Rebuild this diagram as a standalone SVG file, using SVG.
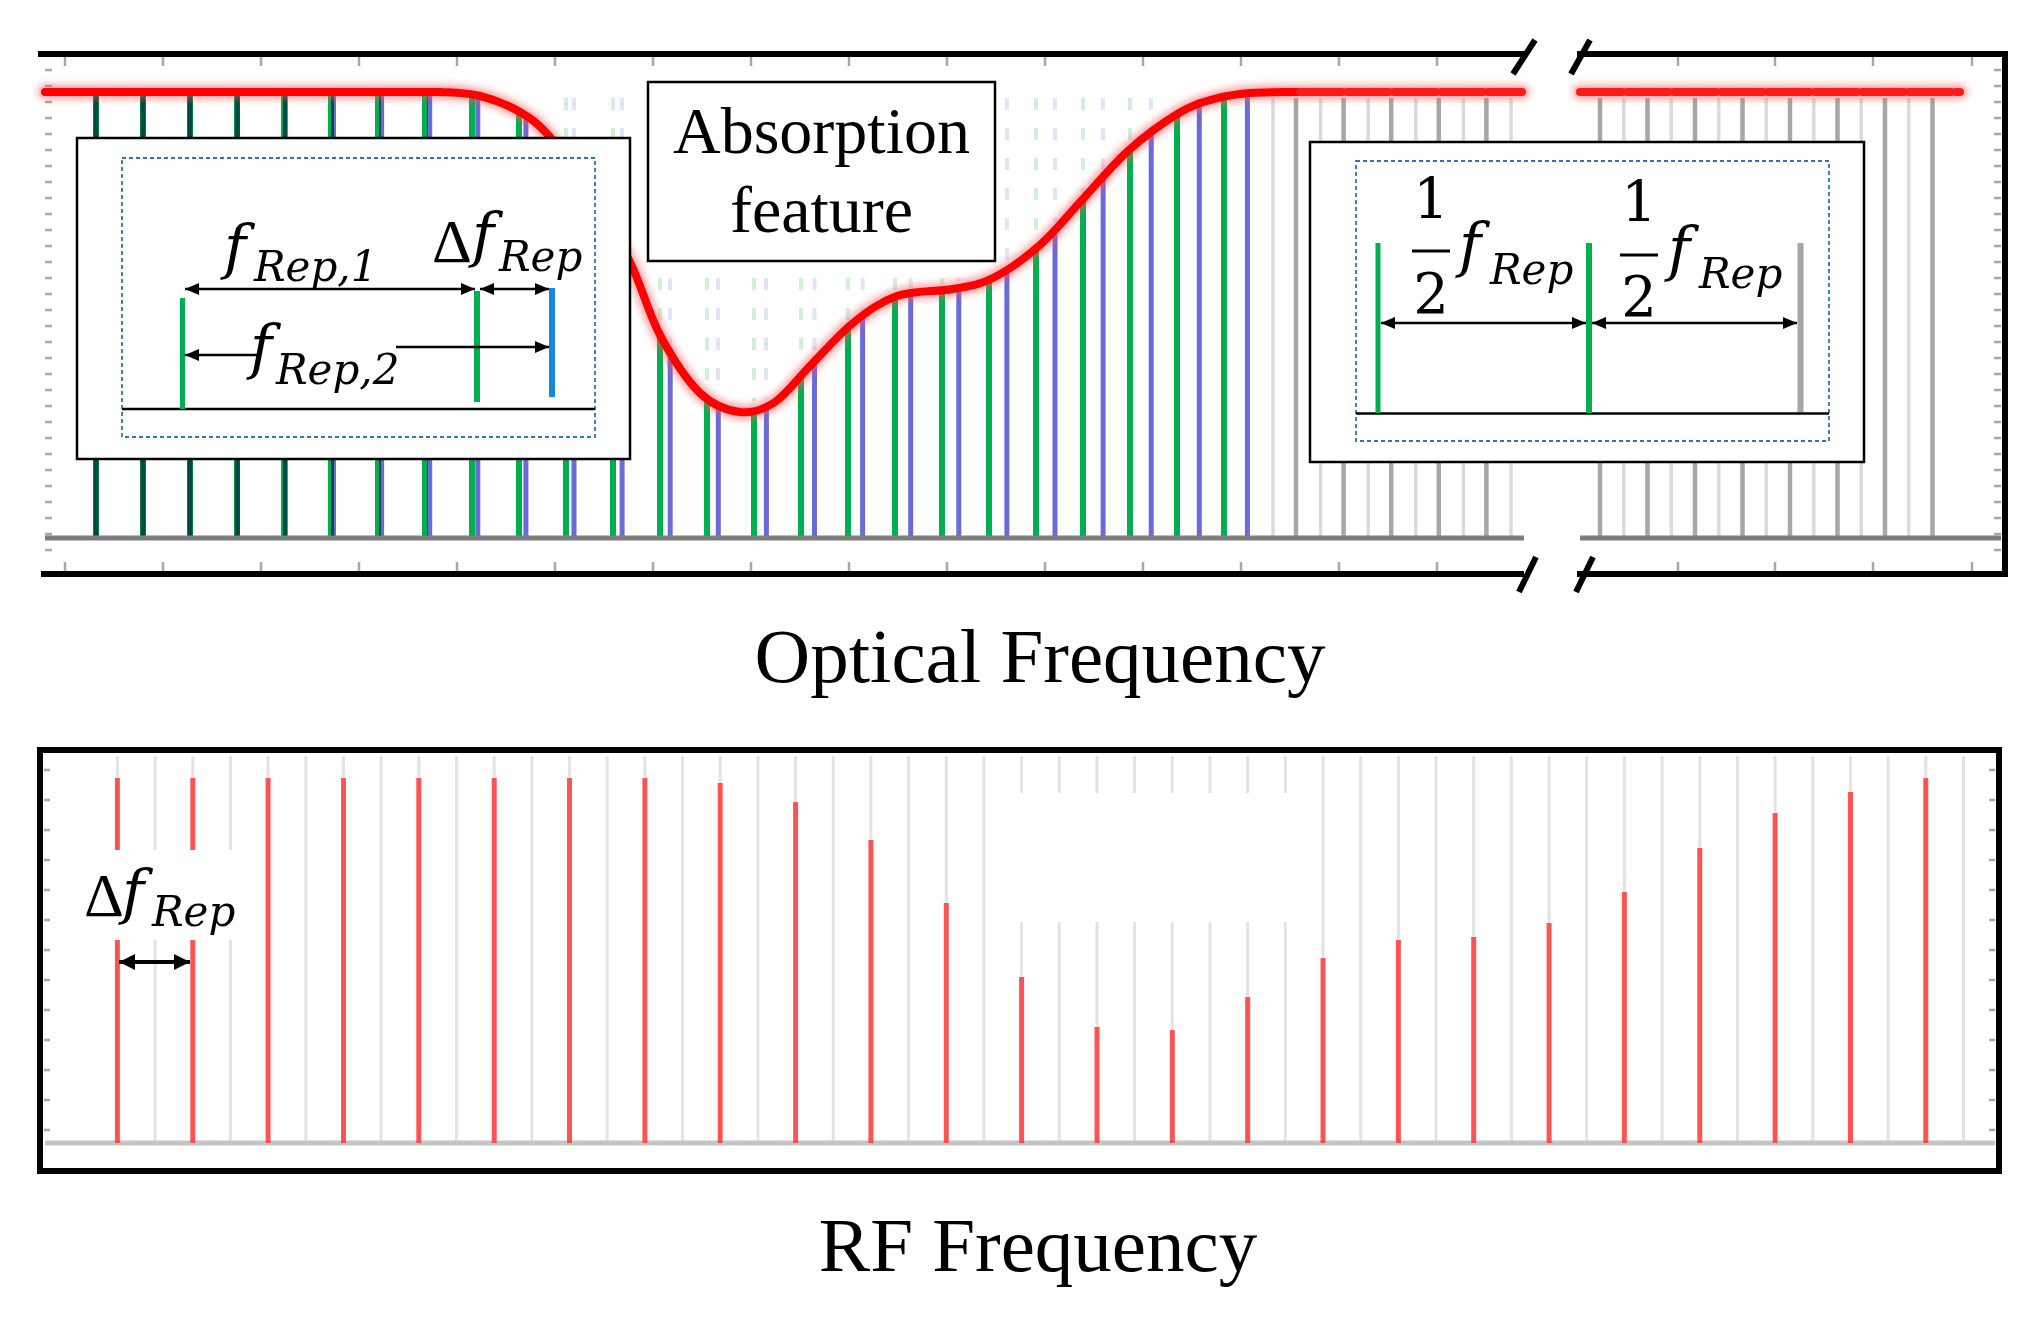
<svg xmlns="http://www.w3.org/2000/svg" width="2040" height="1328" viewBox="0 0 2040 1328">
<style>
.bd{fill:none;stroke:#000;stroke-width:6;stroke-linecap:square}
.tk{fill:none;stroke:#a8a8a8;stroke-width:2.5}
.g{stroke:#00b050;stroke-width:6;mix-blend-mode:multiply}
.b{stroke:#6a6ad8;stroke-width:5}
.fg{stroke:#00b050;stroke-width:4;opacity:0.18;stroke-dasharray:12 18}
.fb{stroke:#6a6ad8;stroke-width:4;opacity:0.18;stroke-dasharray:12 18}
.gd{stroke:#a6a6a6;stroke-width:4.5}
.gl{stroke:#dadada;stroke-width:3.5}
.gb{stroke:#e3e3e3;stroke-width:3}
.rd{stroke:#ff3a3a;stroke-width:5;opacity:0.85}
.box{fill:#fff;stroke:#000;stroke-width:2.5}
.dash{fill:none;stroke:#2e75b6;stroke-width:1.8;stroke-dasharray:4 3}
.ax{stroke:#000;stroke-width:2.5}
.arr{stroke:#000;stroke-width:2.5;fill:none}
.tt{font-family:"Liberation Serif","Times New Roman",serif;fill:#000}
.m{font-family:"DejaVu Serif",serif;fill:#000}
.mf{font-style:italic;font-size:60px}
.ms{font-style:italic;font-size:42px}
.mu{font-family:"Liberation Serif","Times New Roman",serif;font-size:62px}
</style>
<defs>
<marker id="ah" viewBox="0 0 14 12" refX="14" refY="6" markerWidth="14" markerHeight="12" markerUnits="userSpaceOnUse" orient="auto-start-reverse"><path d="M0,0 L14,6 L0,12 z" fill="#000"/></marker>
<marker id="ahb" viewBox="0 0 16 16" refX="16" refY="8" markerWidth="16" markerHeight="16" markerUnits="userSpaceOnUse" orient="auto-start-reverse"><path d="M0,0 L16,8 L0,16 z" fill="#000"/></marker>
<filter id="glow" x="-5%" y="-20%" width="110%" height="140%"><feGaussianBlur stdDeviation="3"/></filter>
</defs>
<rect width="2040" height="1328" fill="#fff"/>

<g id="optical-panel">
  <path class="tk" d="M65 57v9M163 57v9M261 57v9M359 57v9M457 57v9M555 57v9M653 57v9M751 57v9M849 57v9M947 57v9M1045 57v9M1143 57v9M1241 57v9M1339 57v9M1437 57v9M1678 57v9M1775 57v9M1873 57v9M1972 57v9M65 562v9M163 562v9M261 562v9M359 562v9M457 562v9M555 562v9M653 562v9M751 562v9M849 562v9M947 562v9M1045 562v9M1143 562v9M1241 562v9M1339 562v9M1437 562v9M1678 562v9M1775 562v9M1873 562v9M1972 562v9"/>
  <path class="tk" d="M45 70h7M45 86h7M45 102h7M45 118h7M45 134h7M45 150h7M45 166h7M45 182h7M45 198h7M45 214h7M45 230h7M45 246h7M45 262h7M45 278h7M45 294h7M45 310h7M45 326h7M45 342h7M45 358h7M45 374h7M45 390h7M45 406h7M45 422h7M45 438h7M45 454h7M45 470h7M45 486h7M45 502h7M45 518h7M45 534h7M45 550h7M1994 70h7M1994 86h7M1994 102h7M1994 118h7M1994 134h7M1994 150h7M1994 166h7M1994 182h7M1994 198h7M1994 214h7M1994 230h7M1994 246h7M1994 262h7M1994 278h7M1994 294h7M1994 310h7M1994 326h7M1994 342h7M1994 358h7M1994 374h7M1994 390h7M1994 406h7M1994 422h7M1994 438h7M1994 454h7M1994 470h7M1994 486h7M1994 502h7M1994 518h7M1994 534h7M1994 550h7"/>
  <g id="absorbed-lines">
    <line class="fg" x1="566" y1="98" x2="566" y2="153"/>
    <line class="fg" x1="613" y1="98" x2="613" y2="226"/>
    <line class="fg" x1="660" y1="98" x2="660" y2="329"/>
    <line class="fg" x1="707" y1="98" x2="707" y2="390"/>
    <line class="fg" x1="754" y1="98" x2="754" y2="402"/>
    <line class="fg" x1="801" y1="98" x2="801" y2="369"/>
    <line class="fg" x1="848" y1="98" x2="848" y2="322"/>
    <line class="fg" x1="895" y1="98" x2="895" y2="291"/>
    <line class="fg" x1="942" y1="98" x2="942" y2="284"/>
    <line class="fg" x1="989" y1="98" x2="989" y2="273"/>
    <line class="fg" x1="1036" y1="98" x2="1036" y2="242"/>
    <line class="fg" x1="1083" y1="98" x2="1083" y2="193"/>
    <line class="fg" x1="1130" y1="98" x2="1130" y2="143"/>
    <line class="fb" x1="574" y1="98" x2="574" y2="164"/>
    <line class="fb" x1="622" y1="98" x2="622" y2="242"/>
    <line class="fb" x1="670" y1="98" x2="670" y2="343"/>
    <line class="fb" x1="718" y1="98" x2="718" y2="396"/>
    <line class="fb" x1="766" y1="98" x2="766" y2="399"/>
    <line class="fb" x1="814.5" y1="98" x2="814.5" y2="356"/>
    <line class="fb" x1="862.6" y1="98" x2="862.6" y2="311"/>
    <line class="fb" x1="910.7" y1="98" x2="910.7" y2="288"/>
    <line class="fb" x1="958.8" y1="98" x2="958.8" y2="281"/>
    <line class="fb" x1="1007" y1="98" x2="1007" y2="262"/>
    <line class="fb" x1="1055" y1="98" x2="1055" y2="223"/>
    <line class="fb" x1="1103" y1="98" x2="1103" y2="172"/>
    <line class="fb" x1="1151" y1="98" x2="1151" y2="128"/>
  </g>
  <g id="comb-2">
    <line class="b" x1="96" y1="92" x2="96" y2="538"/>
    <line class="b" x1="143" y1="92" x2="143" y2="538"/>
    <line class="b" x1="190" y1="92" x2="190" y2="538"/>
    <line class="b" x1="237.3" y1="92" x2="237.3" y2="538"/>
    <line class="b" x1="285.4" y1="92" x2="285.4" y2="538"/>
    <line class="b" x1="333.5" y1="92" x2="333.5" y2="538"/>
    <line class="b" x1="381.6" y1="92" x2="381.6" y2="538"/>
    <line class="b" x1="429.7" y1="92" x2="429.7" y2="538"/>
    <line class="b" x1="477.8" y1="96" x2="477.8" y2="538"/>
    <line class="b" x1="525.9" y1="117" x2="525.9" y2="538"/>
    <line class="b" x1="574" y1="170" x2="574" y2="538"/>
    <line class="b" x1="622.1" y1="248" x2="622.1" y2="538"/>
    <line class="b" x1="670.2" y1="349" x2="670.2" y2="538"/>
    <line class="b" x1="718.3" y1="402" x2="718.3" y2="538"/>
    <line class="b" x1="766.4" y1="405" x2="766.4" y2="538"/>
    <line class="b" x1="814.5" y1="362" x2="814.5" y2="538"/>
    <line class="b" x1="862.6" y1="317" x2="862.6" y2="538"/>
    <line class="b" x1="910.7" y1="294" x2="910.7" y2="538"/>
    <line class="b" x1="958.8" y1="287" x2="958.8" y2="538"/>
    <line class="b" x1="1006.9" y1="268" x2="1006.9" y2="538"/>
    <line class="b" x1="1055" y1="229" x2="1055" y2="538"/>
    <line class="b" x1="1103.1" y1="178" x2="1103.1" y2="538"/>
    <line class="b" x1="1151.2" y1="134" x2="1151.2" y2="538"/>
    <line class="b" x1="1199.3" y1="105" x2="1199.3" y2="538"/>
    <line class="b" x1="1247.4" y1="94" x2="1247.4" y2="538"/>
  </g>
  <g id="comb-1">
    <line class="g" x1="96" y1="92" x2="96" y2="538"/>
    <line class="g" x1="143" y1="92" x2="143" y2="538"/>
    <line class="g" x1="190" y1="92" x2="190" y2="538"/>
    <line class="g" x1="237" y1="92" x2="237" y2="538"/>
    <line class="g" x1="284" y1="92" x2="284" y2="538"/>
    <line class="g" x1="331" y1="92" x2="331" y2="538"/>
    <line class="g" x1="378" y1="92" x2="378" y2="538"/>
    <line class="g" x1="425" y1="92" x2="425" y2="538"/>
    <line class="g" x1="472" y1="95" x2="472" y2="538"/>
    <line class="g" x1="519" y1="112" x2="519" y2="538"/>
    <line class="g" x1="566" y1="159" x2="566" y2="538"/>
    <line class="g" x1="613" y1="232" x2="613" y2="538"/>
    <line class="g" x1="660" y1="335" x2="660" y2="538"/>
    <line class="g" x1="707" y1="396" x2="707" y2="538"/>
    <line class="g" x1="754" y1="408" x2="754" y2="538"/>
    <line class="g" x1="801" y1="375" x2="801" y2="538"/>
    <line class="g" x1="848" y1="328" x2="848" y2="538"/>
    <line class="g" x1="895" y1="297" x2="895" y2="538"/>
    <line class="g" x1="942" y1="290" x2="942" y2="538"/>
    <line class="g" x1="989" y1="279" x2="989" y2="538"/>
    <line class="g" x1="1036" y1="248" x2="1036" y2="538"/>
    <line class="g" x1="1083" y1="199" x2="1083" y2="538"/>
    <line class="g" x1="1130" y1="149" x2="1130" y2="538"/>
    <line class="g" x1="1177" y1="114" x2="1177" y2="538"/>
    <line class="g" x1="1224" y1="97" x2="1224" y2="538"/>
  </g>
  <g id="unfiltered-lines">
    <line class="gl" x1="1273" y1="98" x2="1273" y2="538"/>
    <line class="gl" x1="1320.6" y1="98" x2="1320.6" y2="538"/>
    <line class="gl" x1="1368.2" y1="98" x2="1368.2" y2="538"/>
    <line class="gl" x1="1415.8" y1="98" x2="1415.8" y2="538"/>
    <line class="gl" x1="1463.4" y1="98" x2="1463.4" y2="538"/>
    <line class="gl" x1="1511" y1="98" x2="1511" y2="538"/>
    <line class="gd" x1="1296" y1="98" x2="1296" y2="538"/>
    <line class="gd" x1="1343.6" y1="98" x2="1343.6" y2="538"/>
    <line class="gd" x1="1391.2" y1="98" x2="1391.2" y2="538"/>
    <line class="gd" x1="1438.8" y1="98" x2="1438.8" y2="538"/>
    <line class="gd" x1="1486.4" y1="98" x2="1486.4" y2="538"/>
    <line class="gl" x1="1623.8" y1="98" x2="1623.8" y2="538"/>
    <line class="gl" x1="1671.2" y1="98" x2="1671.2" y2="538"/>
    <line class="gl" x1="1718.8" y1="98" x2="1718.8" y2="538"/>
    <line class="gl" x1="1766.2" y1="98" x2="1766.2" y2="538"/>
    <line class="gl" x1="1813.8" y1="98" x2="1813.8" y2="538"/>
    <line class="gl" x1="1861.2" y1="98" x2="1861.2" y2="538"/>
    <line class="gl" x1="1908.8" y1="98" x2="1908.8" y2="538"/>
    <line class="gd" x1="1600" y1="98" x2="1600" y2="538"/>
    <line class="gd" x1="1647.5" y1="98" x2="1647.5" y2="538"/>
    <line class="gd" x1="1695" y1="98" x2="1695" y2="538"/>
    <line class="gd" x1="1742.5" y1="98" x2="1742.5" y2="538"/>
    <line class="gd" x1="1790" y1="98" x2="1790" y2="538"/>
    <line class="gd" x1="1837.5" y1="98" x2="1837.5" y2="538"/>
    <line class="gd" x1="1885" y1="98" x2="1885" y2="538"/>
    <line class="gd" x1="1932.5" y1="98" x2="1932.5" y2="538"/>
  </g>
  <path d="M45 538H1524M1580 538H2001" stroke="#7d7d7d" stroke-width="5" fill="none"/>
  <g id="absorption-curve" fill="none" stroke-linecap="round">
    <path d="M45,92 L440,92 C453.3,92.7 466.7,92.7 480,96 C493.3,99.3 508.3,105.2 520,112 C531.7,118.8 538.3,123.7 550,137 C561.7,150.3 576.7,171.2 590,192 C603.3,212.8 618.3,238.2 630,262 C641.7,285.8 648.3,313.2 660,335 C671.7,356.8 686.7,380.2 700,393 C713.3,405.8 727.5,410.5 740,412 C752.5,413.5 763.3,409.7 775,402 C786.7,394.3 797,379.2 810,366 C823,352.8 838.5,334.7 853,323 C867.5,311.3 880.3,301.7 897,296 C913.7,290.3 937,292 953,289 C969,286 978.5,285.3 993,278 C1007.5,270.7 1025.2,258 1040,245 C1054.8,232 1067.2,215.8 1082,200 C1096.8,184.2 1112.8,164.5 1129,150 C1145.2,135.5 1164.8,121.5 1179,113 C1193.2,104.5 1202.2,102.3 1214,99 C1225.8,95.7 1235.7,94.2 1250,93 C1264.3,91.8 1283.3,92.2 1300,92 L1522,92 M1580,92 L1960,92" stroke="#ff5050" stroke-width="16" opacity="0.45" filter="url(#glow)"/>
    <path d="M45,92 L440,92 C453.3,92.7 466.7,92.7 480,96 C493.3,99.3 508.3,105.2 520,112 C531.7,118.8 538.3,123.7 550,137 C561.7,150.3 576.7,171.2 590,192 C603.3,212.8 618.3,238.2 630,262 C641.7,285.8 648.3,313.2 660,335 C671.7,356.8 686.7,380.2 700,393 C713.3,405.8 727.5,410.5 740,412 C752.5,413.5 763.3,409.7 775,402 C786.7,394.3 797,379.2 810,366 C823,352.8 838.5,334.7 853,323 C867.5,311.3 880.3,301.7 897,296 C913.7,290.3 937,292 953,289 C969,286 978.5,285.3 993,278 C1007.5,270.7 1025.2,258 1040,245 C1054.8,232 1067.2,215.8 1082,200 C1096.8,184.2 1112.8,164.5 1129,150 C1145.2,135.5 1164.8,121.5 1179,113 C1193.2,104.5 1202.2,102.3 1214,99 C1225.8,95.7 1235.7,94.2 1250,93 C1264.3,91.8 1283.3,92.2 1300,92" stroke="#ff0000" stroke-width="8"/>
    <path d="M1300,92 L1522,92 M1580,92 L1960,92" stroke="#ff1a1a" stroke-width="8" stroke-dasharray="42 5"/>
  </g>
  <path class="bd" d="M41 54H1524M1580 54H2005V574H1580M1524 574H41Z" stroke-linecap="butt"/>
  <path d="M1513 74L1535 40M1571 74L1590 40M1519 592L1536 557M1576 592L1593 557" stroke="#000" stroke-width="6" fill="none"/>
</g>

<g id="inset-left">
  <rect class="box" x="77" y="138" width="553" height="321"/>
  <rect class="dash" x="122" y="158" width="473" height="279"/>
  <line class="ax" x1="122" y1="409" x2="595" y2="409"/>
  <line x1="182.5" y1="298" x2="182.5" y2="409" stroke="#00b050" stroke-width="5"/>
  <line x1="477" y1="291" x2="477" y2="402" stroke="#00b050" stroke-width="6"/>
  <line x1="552" y1="288" x2="552" y2="397" stroke="#1a86d8" stroke-width="6"/>
  <text class="m"><tspan class="mf" x="224" y="268">f</tspan><tspan class="ms" x="254" y="281">Rep,1</tspan></text>
  <text class="m"><tspan class="mu" x="432" y="262">Δ</tspan><tspan class="mf" x="472" y="256">f</tspan><tspan class="ms" x="499" y="271">Rep</tspan></text>
  <text class="m"><tspan class="mf" x="250" y="368">f</tspan><tspan class="ms" x="276" y="384">Rep,2</tspan></text>
</g>

<g id="absorption-label">
  <rect class="box" x="648" y="82" width="347" height="179"/>
  <text class="tt" x="821.5" y="153" font-size="66" text-anchor="middle">Absorption</text>
  <text class="tt" x="821.5" y="232" font-size="66" text-anchor="middle">feature</text>
</g>

<g id="inset-right">
  <rect class="box" x="1310" y="142" width="554" height="320"/>
  <rect class="dash" x="1356" y="161" width="473" height="280"/>
  <line class="ax" x1="1356" y1="413.5" x2="1829" y2="413.5"/>
  <line x1="1378" y1="243" x2="1378" y2="413" stroke="#00b050" stroke-width="5"/>
  <line x1="1589" y1="243" x2="1589" y2="413" stroke="#00b050" stroke-width="6"/>
  <line x1="1800.5" y1="243" x2="1800.5" y2="412" stroke="#a6a6a6" stroke-width="6"/>
  <text class="m" font-size="56" text-anchor="middle"><tspan x="1431" y="218">1</tspan><tspan x="1431" y="313">2</tspan><tspan x="1639" y="221">1</tspan><tspan x="1639" y="316">2</tspan></text>
  <path d="M1412 251H1450M1620 255H1658" stroke="#000" stroke-width="3"/>
  <text class="m"><tspan class="mf" x="1459" y="266">f</tspan><tspan class="ms" x="1490" y="284">Rep</tspan></text>
  <text class="m"><tspan class="mf" x="1668" y="270">f</tspan><tspan class="ms" x="1699" y="288">Rep</tspan></text>
</g>

<g id="rf-panel">
  <path class="tk" d="M44 770h6M44 800h6M44 830h6M44 860h6M44 890h6M44 920h6M44 950h6M44 980h6M44 1010h6M44 1040h6M44 1070h6M44 1100h6M44 1130h6M1989 770h6M1989 800h6M1989 830h6M1989 860h6M1989 890h6M1989 920h6M1989 950h6M1989 980h6M1989 1010h6M1989 1040h6M1989 1070h6M1989 1100h6M1989 1130h6"/>
  <g id="rf-grid">
    <line class="gb" x1="117.4" y1="756" x2="117.4" y2="1143"/>
    <line class="gb" x1="155.1" y1="756" x2="155.1" y2="1143"/>
    <line class="gb" x1="192.8" y1="756" x2="192.8" y2="1143"/>
    <line class="gb" x1="230.4" y1="756" x2="230.4" y2="1143"/>
    <line class="gb" x1="268.1" y1="756" x2="268.1" y2="1143"/>
    <line class="gb" x1="305.8" y1="756" x2="305.8" y2="1143"/>
    <line class="gb" x1="343.5" y1="756" x2="343.5" y2="1143"/>
    <line class="gb" x1="381.1" y1="756" x2="381.1" y2="1143"/>
    <line class="gb" x1="418.8" y1="756" x2="418.8" y2="1143"/>
    <line class="gb" x1="456.5" y1="756" x2="456.5" y2="1143"/>
    <line class="gb" x1="494.2" y1="756" x2="494.2" y2="1143"/>
    <line class="gb" x1="531.8" y1="756" x2="531.8" y2="1143"/>
    <line class="gb" x1="569.5" y1="756" x2="569.5" y2="1143"/>
    <line class="gb" x1="607.2" y1="756" x2="607.2" y2="1143"/>
    <line class="gb" x1="644.9" y1="756" x2="644.9" y2="1143"/>
    <line class="gb" x1="682.5" y1="756" x2="682.5" y2="1143"/>
    <line class="gb" x1="720.2" y1="756" x2="720.2" y2="1143"/>
    <line class="gb" x1="757.9" y1="756" x2="757.9" y2="1143"/>
    <line class="gb" x1="795.6" y1="756" x2="795.6" y2="1143"/>
    <line class="gb" x1="833.2" y1="756" x2="833.2" y2="1143"/>
    <line class="gb" x1="870.9" y1="756" x2="870.9" y2="1143"/>
    <line class="gb" x1="908.6" y1="756" x2="908.6" y2="1143"/>
    <line class="gb" x1="946.3" y1="756" x2="946.3" y2="1143"/>
    <line class="gb" x1="983.9" y1="756" x2="983.9" y2="1143"/>
    <line class="gb" x1="1021.6" y1="756" x2="1021.6" y2="1143"/>
    <line class="gb" x1="1059.3" y1="756" x2="1059.3" y2="1143"/>
    <line class="gb" x1="1097" y1="756" x2="1097" y2="1143"/>
    <line class="gb" x1="1134.6" y1="756" x2="1134.6" y2="1143"/>
    <line class="gb" x1="1172.3" y1="756" x2="1172.3" y2="1143"/>
    <line class="gb" x1="1210" y1="756" x2="1210" y2="1143"/>
    <line class="gb" x1="1247.7" y1="756" x2="1247.7" y2="1143"/>
    <line class="gb" x1="1285.3" y1="756" x2="1285.3" y2="1143"/>
    <line class="gb" x1="1323" y1="756" x2="1323" y2="1143"/>
    <line class="gb" x1="1360.7" y1="756" x2="1360.7" y2="1143"/>
    <line class="gb" x1="1398.4" y1="756" x2="1398.4" y2="1143"/>
    <line class="gb" x1="1436" y1="756" x2="1436" y2="1143"/>
    <line class="gb" x1="1473.7" y1="756" x2="1473.7" y2="1143"/>
    <line class="gb" x1="1511.4" y1="756" x2="1511.4" y2="1143"/>
    <line class="gb" x1="1549.1" y1="756" x2="1549.1" y2="1143"/>
    <line class="gb" x1="1586.7" y1="756" x2="1586.7" y2="1143"/>
    <line class="gb" x1="1624.4" y1="756" x2="1624.4" y2="1143"/>
    <line class="gb" x1="1662.1" y1="756" x2="1662.1" y2="1143"/>
    <line class="gb" x1="1699.8" y1="756" x2="1699.8" y2="1143"/>
    <line class="gb" x1="1737.4" y1="756" x2="1737.4" y2="1143"/>
    <line class="gb" x1="1775.1" y1="756" x2="1775.1" y2="1143"/>
    <line class="gb" x1="1812.8" y1="756" x2="1812.8" y2="1143"/>
    <line class="gb" x1="1850.5" y1="756" x2="1850.5" y2="1143"/>
    <line class="gb" x1="1888.1" y1="756" x2="1888.1" y2="1143"/>
    <line class="gb" x1="1925.8" y1="756" x2="1925.8" y2="1143"/>
    <line class="gb" x1="1963.5" y1="756" x2="1963.5" y2="1143"/>
  </g>
  <rect x="1005" y="793" width="295" height="129" fill="#fff"/>
  <path d="M45 1143H1995" stroke="#c4c4c4" stroke-width="5"/>
  <g id="rf-beats">
    <line class="rd" x1="117.4" y1="778" x2="117.4" y2="1143"/>
    <line class="rd" x1="192.8" y1="778" x2="192.8" y2="1143"/>
    <line class="rd" x1="268.1" y1="778" x2="268.1" y2="1143"/>
    <line class="rd" x1="343.5" y1="778" x2="343.5" y2="1143"/>
    <line class="rd" x1="418.8" y1="778" x2="418.8" y2="1143"/>
    <line class="rd" x1="494.2" y1="778" x2="494.2" y2="1143"/>
    <line class="rd" x1="569.5" y1="778" x2="569.5" y2="1143"/>
    <line class="rd" x1="644.9" y1="778" x2="644.9" y2="1143"/>
    <line class="rd" x1="720.2" y1="783" x2="720.2" y2="1143"/>
    <line class="rd" x1="795.6" y1="802" x2="795.6" y2="1143"/>
    <line class="rd" x1="870.9" y1="840" x2="870.9" y2="1143"/>
    <line class="rd" x1="946.3" y1="903" x2="946.3" y2="1143"/>
    <line class="rd" x1="1021.6" y1="977" x2="1021.6" y2="1143"/>
    <line class="rd" x1="1097" y1="1027" x2="1097" y2="1143"/>
    <line class="rd" x1="1172.3" y1="1030" x2="1172.3" y2="1143"/>
    <line class="rd" x1="1247.7" y1="997" x2="1247.7" y2="1143"/>
    <line class="rd" x1="1323" y1="958" x2="1323" y2="1143"/>
    <line class="rd" x1="1398.4" y1="940" x2="1398.4" y2="1143"/>
    <line class="rd" x1="1473.7" y1="937" x2="1473.7" y2="1143"/>
    <line class="rd" x1="1549.1" y1="923" x2="1549.1" y2="1143"/>
    <line class="rd" x1="1624.4" y1="892" x2="1624.4" y2="1143"/>
    <line class="rd" x1="1699.8" y1="848" x2="1699.8" y2="1143"/>
    <line class="rd" x1="1775.1" y1="813" x2="1775.1" y2="1143"/>
    <line class="rd" x1="1850.5" y1="792" x2="1850.5" y2="1143"/>
    <line class="rd" x1="1925.8" y1="778" x2="1925.8" y2="1143"/>
  </g>
  <rect class="bd" x="40" y="750" width="1959" height="421"/>
</g>

<g id="rf-label">
  <rect x="81" y="850" width="169" height="90" fill="#fff"/>
  <text class="m"><tspan class="mu" x="84" y="916">Δ</tspan><tspan class="mf" x="122" y="913">f</tspan><tspan class="ms" x="152" y="926">Rep</tspan></text>
</g>

<g id="connectors">
  <line class="arr" x1="185" y1="289" x2="475" y2="289" marker-start="url(#ah)" marker-end="url(#ah)"/>
  <line class="arr" x1="480" y1="289" x2="549" y2="289" marker-start="url(#ah)" marker-end="url(#ah)"/>
  <line class="arr" x1="258" y1="355" x2="185" y2="355" marker-end="url(#ah)"/>
  <line class="arr" x1="396" y1="347" x2="549" y2="347" marker-end="url(#ah)"/>
  <line class="arr" x1="1381" y1="323" x2="1586" y2="323" marker-start="url(#ah)" marker-end="url(#ah)"/>
  <line class="arr" x1="1592" y1="323" x2="1797" y2="323" marker-start="url(#ah)" marker-end="url(#ah)"/>
  <line x1="119" y1="962" x2="190" y2="962" stroke="#000" stroke-width="4" marker-start="url(#ahb)" marker-end="url(#ahb)"/>
</g>

<g id="axis-labels">
  <text class="tt" x="1040" y="682" font-size="77" text-anchor="middle">Optical Frequency</text>
  <text class="tt" x="1038" y="1271" font-size="77" text-anchor="middle">RF Frequency</text>
</g>
</svg>
